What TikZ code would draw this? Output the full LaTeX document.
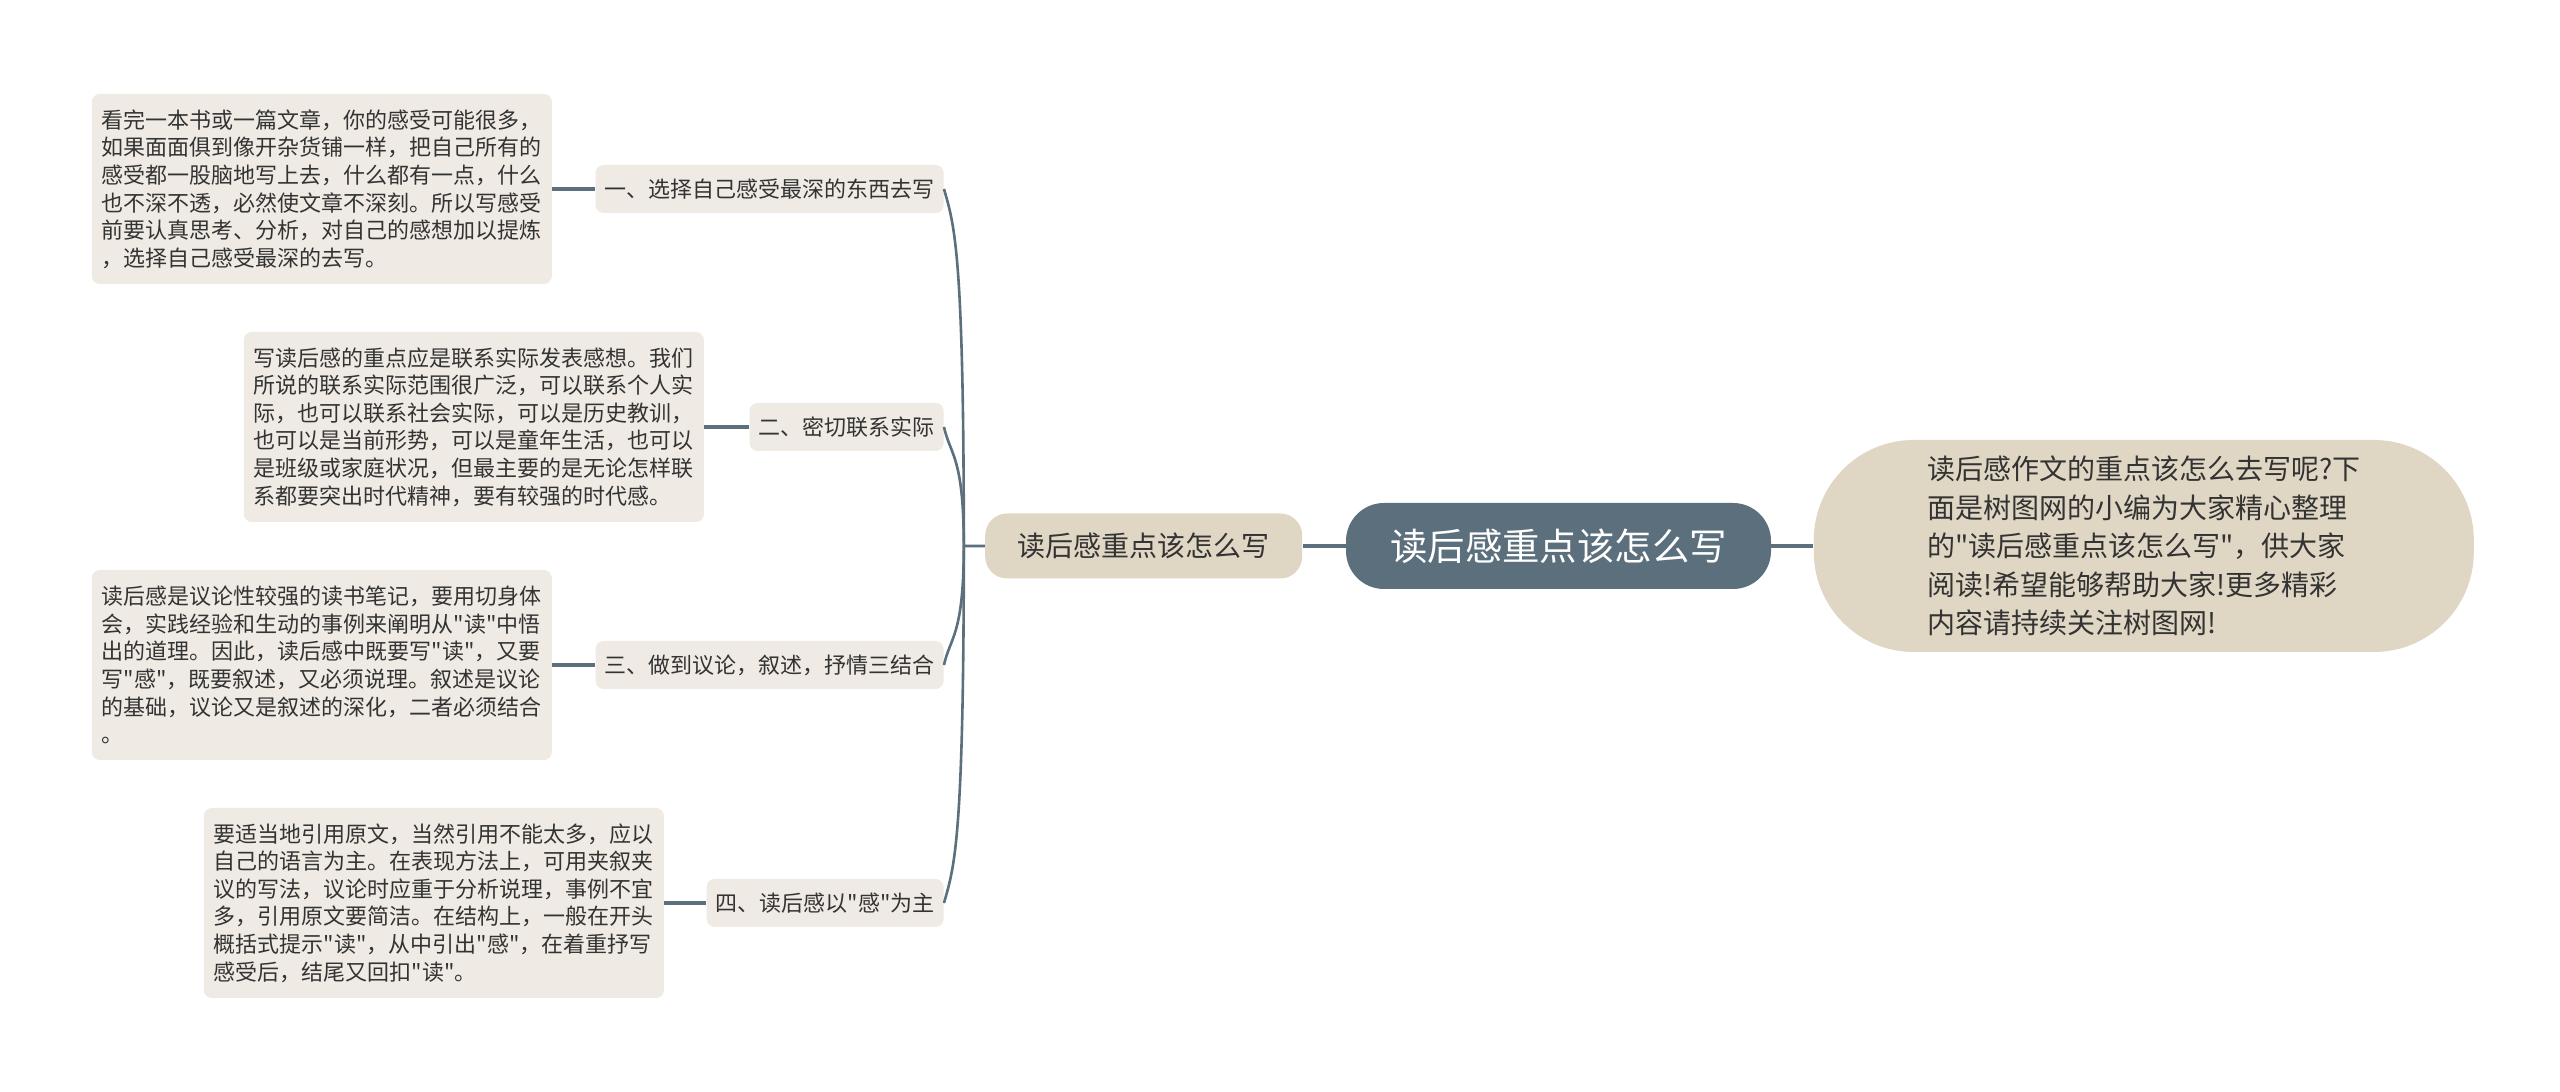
\documentclass[tikz,border=0pt]{standalone}
\usepackage{fontspec}
\setmainfont{Noto Sans CJK SC}[Ligatures=TeXOff]
\usetikzlibrary{matrix,positioning}
\definecolor{slate}{HTML}{5B6F7C}
\definecolor{sand}{HTML}{E0D6C4}
\definecolor{paper}{HTML}{EFEBE4}
\definecolor{ink}{HTML}{333333}

\begin{document}
\begin{tikzpicture}[
    leaf/.style={fill=paper,rounded corners=4pt,text=ink,align=left,text width=220pt,
      inner xsep=5pt,minimum height=95pt,font=\fontsize{11pt}{13.8pt}\selectfont},
    branch/.style={fill=paper,rounded corners=4pt,text=ink,inner xsep=4.5pt,inner ysep=0pt,
      minimum height=24pt,font=\fontsize{11pt}{13pt}\selectfont},
    link/.style={draw=slate,line width=1.6pt},
    trunk/.style={draw=slate,line width=1.3pt}
  ]
  \useasboundingbox[fill=white] (0,0) rectangle (1280pt,546pt);

  \node (main) [fill=slate,text=white,rounded corners=19pt,minimum width=212.5pt,minimum height=43pt,
    font=\fontsize{18.7pt}{20pt}\selectfont] at (779.25pt,273pt) {读后感重点该怎么写};
  \node (topic) [fill=sand,text=ink,rounded corners=11pt,minimum width=158.5pt,minimum height=32.5pt,
    font=\fontsize{14pt}{16pt}\selectfont,left=21.5pt of main] {读后感重点该怎么写};
  \node (intro) [fill=sand,text=ink,rounded corners=50pt,minimum width=330pt,minimum height=106pt,
    align=left,font=\fontsize{14pt}{19.2pt}\selectfont,right=21pt of main]
    {读后感作文的重点该怎么去写呢?下\\
     面是树图网的小编为大家精心整理\\
     的"读后感重点该怎么写"，供大家\\
     阅读!希望能够帮助大家!更多精彩\\
     内容请持续关注树图网!};

  \matrix (m) [matrix of nodes,nodes={branch},row sep=95pt,inner sep=0pt,
    column 1/.style={anchor=east},anchor=east] at (472pt,273pt)
  {
     一、选择自己感受最深的东西去写 \\
     二、密切联系实际 \\
     三、做到议论，叙述，抒情三结合 \\
     四、读后感以"感"为主 \\};

  \node (d1) [leaf,left=21.5pt of m-1-1]
    {看完一本书或一篇文章，你的感受可能很多，\\
     如果面面俱到像开杂货铺一样，把自己所有的\\
     感受都一股脑地写上去，什么都有一点，什么\\
     也不深不透，必然使文章不深刻。所以写感受\\
     前要认真思考、分析，对自己的感想加以提炼\\
     ，选择自己感受最深的去写。};
  \node (d2) [leaf,left=22.5pt of m-2-1]
    {写读后感的重点应是联系实际发表感想。我们\\
     所说的联系实际范围很广泛，可以联系个人实\\
     际，也可以联系社会实际，可以是历史教训，\\
     也可以是当前形势，可以是童年生活，也可以\\
     是班级或家庭状况，但最主要的是无论怎样联\\
     系都要突出时代精神，要有较强的时代感。};
  \node (d3) [leaf,left=21.5pt of m-3-1]
    {读后感是议论性较强的读书笔记，要用切身体\\
     会，实践经验和生动的事例来阐明从"读"中悟\\
     出的道理。因此，读后感中既要写"读"，又要\\
     写"感"，既要叙述，又必须说理。叙述是议论\\
     的基础，议论又是叙述的深化，二者必须结合\\
     。};
  \node (d4) [leaf,left=21pt of m-4-1]
    {要适当地引用原文，当然引用不能太多，应以\\
     自己的语言为主。在表现方法上，可用夹叙夹\\
     议的写法，议论时应重于分析说理，事例不宜\\
     多，引用原文要简洁。在结构上，一般在开头\\
     概括式提示"读"，从中引出"感"，在着重抒写\\
     感受后，结尾又回扣"读"。};

  \coordinate (fork) at ([xshift=-10.5pt]topic.west);
  \path[link]
    (main) edge (topic)
    (main) edge (intro)
    (m-1-1) edge (d1)
    (m-2-1) edge (d2)
    (m-3-1) edge (d3)
    (m-4-1) edge (d4);
  \draw[trunk] (topic.west) -- (fork)
    .. controls +(0,150pt) and +(5pt,-18pt) .. (m-1-1.east);
  \draw[trunk] (fork) .. controls +(0,45pt) and +(3pt,-14pt) .. (m-2-1.east);
  \draw[trunk] (fork) .. controls +(0,-45pt) and +(3pt,14pt) .. (m-3-1.east);
  \draw[trunk] (fork) .. controls +(0,-150pt) and +(5pt,18pt) .. (m-4-1.east);
\end{tikzpicture}
\end{document}
